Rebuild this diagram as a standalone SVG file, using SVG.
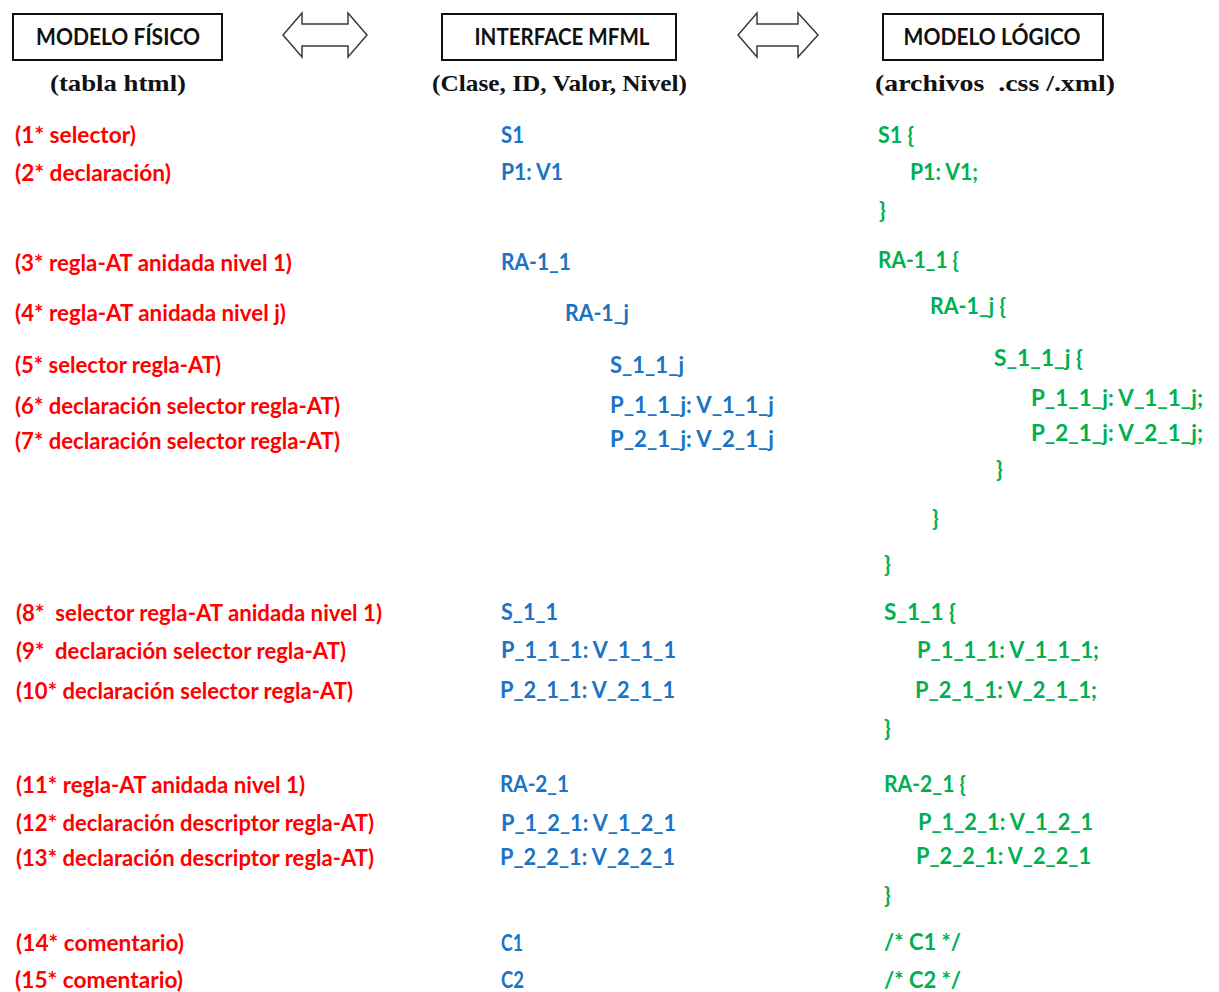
<svg xmlns="http://www.w3.org/2000/svg" width="1219" height="992" viewBox="0 0 1219 992">
  <style>
    .box { fill: #ffffff; stroke: #111111; stroke-width: 2; }
    .head { font-family: Lato, "Open Sans", sans-serif; font-weight: 700; font-size: 22px; fill: #111111; text-anchor: middle; }
    .sub { font-family: "Liberation Serif", "DejaVu Serif", serif; font-weight: 700; font-size: 24px; fill: #111111; white-space: pre; }
    .dbl { fill: #ffffff; stroke: #3a3a3a; stroke-width: 1.5; stroke-linejoin: miter; }
    text.t { font-family: Lato, "Open Sans", sans-serif; font-weight: 700; font-size: 22px; white-space: pre; }
    .red { fill: #ff0000; }
    .blue { fill: #1a73c4; }
    .green { fill: #00b050; }
  </style>

  <rect width="1219" height="992" fill="#ffffff"/>

  <!-- column headers -->
  <g id="modelo-fisico">
    <rect class="box" x="13" y="14" width="209" height="46"/>
    <text class="head" x="118" y="45" textLength="164" lengthAdjust="spacingAndGlyphs">MODELO FÍSICO</text>
    <text class="sub" x="50" y="91" textLength="136" lengthAdjust="spacingAndGlyphs">(tabla html)</text>
  </g>
  <g id="interface-mfml">
    <rect class="box" x="442" y="14" width="234" height="46"/>
    <text class="head" x="562" y="45" textLength="175" lengthAdjust="spacingAndGlyphs">INTERFACE MFML</text>
    <text class="sub" x="432" y="91" textLength="255" lengthAdjust="spacingAndGlyphs">(Clase, ID, Valor, Nivel)</text>
  </g>
  <g id="modelo-logico">
    <rect class="box" x="883" y="14" width="220" height="46"/>
    <text class="head" x="992" y="45" textLength="177" lengthAdjust="spacingAndGlyphs">MODELO LÓGICO</text>
    <text class="sub" x="875" y="91" textLength="240" lengthAdjust="spacingAndGlyphs">(archivos  .css /.xml)</text>
  </g>

  <!-- double-headed block arrows between the columns -->
  <g id="connectors">
    <path class="dbl" d="M283,35 L302,13 L302,24 L348,24 L348,13 L367,35 L348,57 L348,46 L302,46 L302,57 Z"/>
    <path class="dbl" d="M738,35 L757,13 L757,24 L798,24 L798,13 L818,35 L798,57 L798,46 L757,46 L757,57 Z"/>
  </g>

  <!-- physical model: element descriptions -->
  <g id="fisico-items">
    <text class="t red" x="15" y="143" textLength="121" lengthAdjust="spacingAndGlyphs">(1* selector)</text>
    <text class="t red" x="15" y="181" textLength="156" lengthAdjust="spacingAndGlyphs">(2* declaración)</text>
    <text class="t red" x="15" y="271" textLength="277" lengthAdjust="spacingAndGlyphs">(3* regla-AT anidada nivel 1)</text>
    <text class="t red" x="15" y="321" textLength="271" lengthAdjust="spacingAndGlyphs">(4* regla-AT anidada nivel j)</text>
    <text class="t red" x="15" y="373" textLength="206" lengthAdjust="spacingAndGlyphs">(5* selector regla-AT)</text>
    <text class="t red" x="15" y="414" textLength="325" lengthAdjust="spacingAndGlyphs">(6* declaración selector regla-AT)</text>
    <text class="t red" x="15" y="449" textLength="325" lengthAdjust="spacingAndGlyphs">(7* declaración selector regla-AT)</text>
    <text class="t red" x="16" y="621" textLength="366" lengthAdjust="spacingAndGlyphs">(8*  selector regla-AT anidada nivel 1)</text>
    <text class="t red" x="16" y="659" textLength="330" lengthAdjust="spacingAndGlyphs">(9*  declaración selector regla-AT)</text>
    <text class="t red" x="16" y="699" textLength="337" lengthAdjust="spacingAndGlyphs">(10* declaración selector regla-AT)</text>
    <text class="t red" x="16" y="793" textLength="289" lengthAdjust="spacingAndGlyphs">(11* regla-AT anidada nivel 1)</text>
    <text class="t red" x="16" y="831" textLength="358" lengthAdjust="spacingAndGlyphs">(12* declaración descriptor regla-AT)</text>
    <text class="t red" x="16" y="866" textLength="358" lengthAdjust="spacingAndGlyphs">(13* declaración descriptor regla-AT)</text>
    <text class="t red" x="16" y="951" textLength="168" lengthAdjust="spacingAndGlyphs">(14* comentario)</text>
    <text class="t red" x="15" y="988" textLength="168" lengthAdjust="spacingAndGlyphs">(15* comentario)</text>
  </g>

  <!-- MFML interface: class / id / value / level -->
  <g id="mfml-items">
    <text class="t blue" x="501" y="143" textLength="23" lengthAdjust="spacingAndGlyphs">S1</text>
    <text class="t blue" x="501" y="180" textLength="62" lengthAdjust="spacingAndGlyphs">P1: V1</text>
    <text class="t blue" x="501" y="270" textLength="70" lengthAdjust="spacingAndGlyphs">RA-1_1</text>
    <text class="t blue" x="565" y="321" textLength="64" lengthAdjust="spacingAndGlyphs">RA-1_j</text>
    <text class="t blue" x="610" y="373" textLength="74" lengthAdjust="spacingAndGlyphs">S_1_1_j</text>
    <text class="t blue" x="610" y="413" textLength="164" lengthAdjust="spacingAndGlyphs">P_1_1_j: V_1_1_j</text>
    <text class="t blue" x="610" y="447" textLength="164" lengthAdjust="spacingAndGlyphs">P_2_1_j: V_2_1_j</text>
    <text class="t blue" x="501" y="620" textLength="57" lengthAdjust="spacingAndGlyphs">S_1_1</text>
    <text class="t blue" x="501" y="658" textLength="175" lengthAdjust="spacingAndGlyphs">P_1_1_1: V_1_1_1</text>
    <text class="t blue" x="500" y="698" textLength="175" lengthAdjust="spacingAndGlyphs">P_2_1_1: V_2_1_1</text>
    <text class="t blue" x="500" y="792" textLength="69" lengthAdjust="spacingAndGlyphs">RA-2_1</text>
    <text class="t blue" x="501" y="831" textLength="175" lengthAdjust="spacingAndGlyphs">P_1_2_1: V_1_2_1</text>
    <text class="t blue" x="500" y="865" textLength="175" lengthAdjust="spacingAndGlyphs">P_2_2_1: V_2_2_1</text>
    <text class="t blue" x="501" y="951" textLength="22" lengthAdjust="spacingAndGlyphs">C1</text>
    <text class="t blue" x="501" y="988" textLength="23" lengthAdjust="spacingAndGlyphs">C2</text>
  </g>

  <!-- logical model: generated css / xml -->
  <g id="logico-items">
    <text class="t green" x="878" y="143" textLength="36" lengthAdjust="spacingAndGlyphs">S1 {</text>
    <text class="t green" x="910" y="180" textLength="68" lengthAdjust="spacingAndGlyphs">P1: V1;</text>
    <text class="t green" x="879" y="218">}</text>
    <text class="t green" x="878" y="268" textLength="81" lengthAdjust="spacingAndGlyphs">RA-1_1 {</text>
    <text class="t green" x="930" y="314" textLength="76" lengthAdjust="spacingAndGlyphs">RA-1_j {</text>
    <text class="t green" x="994" y="366" textLength="89" lengthAdjust="spacingAndGlyphs">S_1_1_j {</text>
    <text class="t green" x="1031" y="406" textLength="172" lengthAdjust="spacingAndGlyphs">P_1_1_j: V_1_1_j;</text>
    <text class="t green" x="1031" y="441" textLength="172" lengthAdjust="spacingAndGlyphs">P_2_1_j: V_2_1_j;</text>
    <text class="t green" x="996" y="477">}</text>
    <text class="t green" x="932" y="526">}</text>
    <text class="t green" x="884" y="572">}</text>
    <text class="t green" x="884" y="620" textLength="72" lengthAdjust="spacingAndGlyphs">S_1_1 {</text>
    <text class="t green" x="917" y="658" textLength="182" lengthAdjust="spacingAndGlyphs">P_1_1_1: V_1_1_1;</text>
    <text class="t green" x="915" y="698" textLength="182" lengthAdjust="spacingAndGlyphs">P_2_1_1: V_2_1_1;</text>
    <text class="t green" x="884" y="736">}</text>
    <text class="t green" x="884" y="792" textLength="82" lengthAdjust="spacingAndGlyphs">RA-2_1 {</text>
    <text class="t green" x="918" y="830" textLength="175" lengthAdjust="spacingAndGlyphs">P_1_2_1: V_1_2_1</text>
    <text class="t green" x="916" y="864" textLength="175" lengthAdjust="spacingAndGlyphs">P_2_2_1: V_2_2_1</text>
    <text class="t green" x="884" y="903">}</text>
    <text class="t green" x="884" y="950" textLength="77" lengthAdjust="spacingAndGlyphs">/* C1 */</text>
    <text class="t green" x="884" y="988" textLength="77" lengthAdjust="spacingAndGlyphs">/* C2 */</text>
  </g>
</svg>
